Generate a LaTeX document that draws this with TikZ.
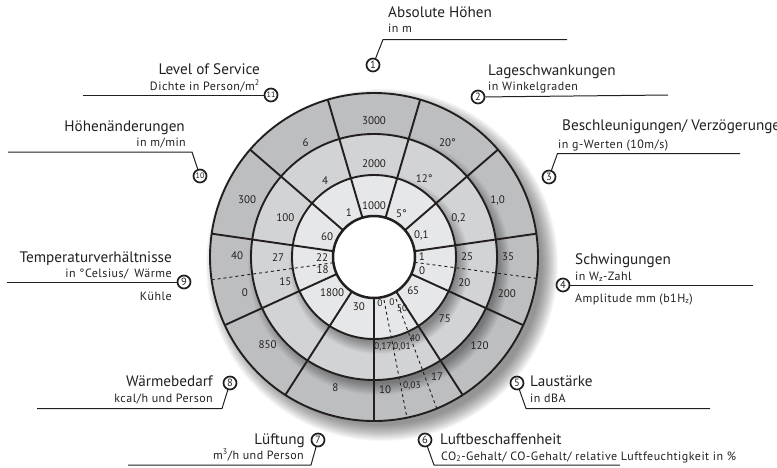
\documentclass[tikz,border=0pt]{standalone}
\usepackage{fontspec}
\setmainfont{PT Sans}
\newfontfamily\subfont[LetterSpace=4]{PT Sans}
\definecolor{ringA}{HTML}{E6E7E8}
\definecolor{ringB}{HTML}{D1D3D4}
\definecolor{ringC}{HTML}{BCBEC0}
\definecolor{ink}{HTML}{231F20}
\begin{document}
\begin{tikzpicture}[x=1pt,y=-1pt,line join=round,
  ringline/.style={line width=1.9pt, draw=ink},
  dashline/.style={line width=0.9pt, draw=ink, dash pattern=on 3pt off 3pt},
  lab/.style={font=\fontsize{11}{11}\selectfont, text=ink, inner sep=0},
  labs/.style={font=\fontsize{9.5}{9.5}\selectfont, text=ink, inner sep=0},
  ttl/.style={font=\fontsize{15.2}{15.2}\selectfont, text=ink, inner sep=0},
  subt/.style={font=\subfont\fontsize{12}{12}\selectfont, text=ink, inner sep=0},
  num/.style={circle, draw=ink, line width=1.7pt, inner sep=0, minimum size=13pt, font=\fontsize{10.5}{10.5}\selectfont, text=ink, fill=white},
  numb/.style={num, font=\fontsize{8}{8}\selectfont},
  lead/.style={line width=1pt, draw=ink}]
\useasboundingbox (0,0) rectangle (777,467);
\coordinate (O) at (374,257);
\begin{scope}[shift={(O)}, yscale=-1]
  % drop shadow of the whole disc
  \foreach \i in {0,...,16} \fill[black,opacity=0.03] (8,-8) circle ({176-\i});
  \fill[ringC] (0,0) circle (164);
  \begin{scope}
    \clip (0,0) circle (164);
    \foreach \i in {0,...,12} \fill[black,opacity=0.03] (5,-7) circle ({131-\i});
  \end{scope}
  \fill[ringB] (0,0) circle (123);
  \begin{scope}
    \clip (0,0) circle (123);
    \foreach \i in {0,...,12} \fill[black,opacity=0.03] (5,-7) circle ({90-\i});
  \end{scope}
  \fill[ringA] (0,0) circle (82);
  \fill[white] (0,0) circle (41);
  % radial separators
  \foreach \k in {0,...,10} \draw[ringline] (73.636+\k*32.727:41) -- (73.636+\k*32.727:164);
  % dashed sub-separators
  \draw[dashline] (188:41) -- (188:164);
  \draw[dashline] (-7.5:41) -- (-7.5:164);
  \draw[dashline] (10,-43) -- (33,-161);
  \draw[dashline] (22,-42) -- (63,-152);
  % ring circles
  \draw[ringline] (0,0) circle (82) (0,0) circle (123) (0,0) circle (164);
  \draw[ringline, line width=2.5pt] (0,0) circle (41);
  % sector 1
  \node[lab] (a1) at (90:51) {1000};
  \node[lab] (b1) at (90:93) {2000};
  \node[lab] (c1) at (90:136) {3000};
  % sector 2
  \node[lab] (a2) at (57.27:51) {5°};
  \node[lab] (b2) at (57.27:93) {12°};
  \node[lab] (c2) at (57.27:136) {20°};
  % sector 3
  \node[lab] (a3) at (24.55:52) {0,1};
  \node[lab] (b3) at (24.55:93) {0,2};
  \node[lab] (c3) at (24.55:136) {1,0};
  % sector 4
  \node[lab] (a4) at (1:48) {1};
  \node[lab] (b4) at (0:93) {25};
  \node[lab] (c4) at (0:134) {35};
  \node[lab] (d4) at (-16:50) {0};
  \node[lab] (e4) at (-16:94) {20};
  \node[lab] (f4) at (-15.5:138) {200};
  % sector 5
  \node[lab] (a5) at (-41:52) {65};
  \node[lab] (b5) at (-41:94) {75};
  \node[lab] (c5) at (-40:138) {120};
  % sector 6
  \node[labs] (a6) at (6,-46) {0};
  \node[labs] (b6) at (18,-45) {0};
  \node[labs] (c6) at (28,-51) {50};
  \node[labs] (d6) at (9,-90) {0,17};
  \node[labs] (e6) at (28,-90) {0,01};
  \node[labs] (f6) at (41,-81) {40};
  \node[lab] (g6) at (11,-133) {10};
  \node[labs] (h6) at (38,-129) {0,03};
  \node[lab] (i6) at (63,-120) {17};
  % sector 7
  \node[lab] (a7) at (-107:52) {30};
  \node[lab] (c7) at (-106.5:136) {8};
  % sector 8
  \node[lab] (a8) at (-139.5:55) {1800};
  \node[lab] (c8) at (-140.5:138) {850};
  % sector 9
  \node[lab] (a9) at (180.5:52) {22};
  \node[lab] (b9) at (180.5:96) {27};
  \node[lab] (c9) at (179.5:137) {40};
  \node[lab] (d9) at (194:53) {18};
  \node[lab] (e9) at (195.7:92) {15};
  \node[lab] (f9) at (195.6:134) {0};
  % sector 10
  \node[lab] (a10) at (157:51) {60};
  \node[lab] (b10) at (156:97) {100};
  \node[lab] (c10) at (155.8:139) {300};
  % sector 11
  \node[lab] (a11) at (119.6:51) {1};
  \node[lab] (b11) at (122.5:91) {4};
  \node[lab] (c11) at (121:133) {6};
\end{scope}
% numbered circles
\node[num] (n1) at (373,65) {1};
\node[num] (n2) at (478,97) {2};
\node[num] (n3) at (549,177) {3};
\node[num] (n4) at (563,285) {4};
\node[num] (n5) at (517,383) {5};
\node[num] (n6) at (425,440) {6};
\node[num] (n7) at (318,440) {7};
\node[num] (n8) at (230,383) {8};
\node[num] (n9) at (184,282) {9};
\node[numb] (n10) at (200,176) {10};
\node[numb] (n11) at (271,95) {11};
% leader coordinates
\coordinate (k1) at (383,39.5); \coordinate (e1) at (567,39.5);
\coordinate (e2) at (668,95);
\coordinate (k3) at (557.5,153.5); \coordinate (e3) at (740,153.5);
\coordinate (e4) at (753,285);
\coordinate (k5) at (526,408.5); \coordinate (e5) at (710,408.5);
\coordinate (k6) at (434,465); \coordinate (e6) at (620,465);
\coordinate (k7) at (311,465); \coordinate (e7) at (128,465);
\coordinate (k8) at (222,408.5); \coordinate (e8) at (37,408.5);
\coordinate (e9) at (7,282);
\coordinate (k10) at (192,152); \coordinate (e10) at (8,152);
\coordinate (e11) at (83,95);
\draw[lead] (n1) -- (k1) -- (e1);
\draw[lead] (n2) -- (e2);
\draw[lead] (n3) -- (k3) -- (e3);
\draw[lead] (n4) -- (e4);
\draw[lead] (n5) -- (k5) -- (e5);
\draw[lead] (n6) -- (k6) -- (e6);
\draw[lead] (n7) -- (k7) -- (e7);
\draw[lead] (n8) -- (k8) -- (e8);
\draw[lead] (n9) -- (e9);
\draw[lead] (n10) -- (k10) -- (e10);
\draw[lead] (n11) -- (e11);
% texts
\node[ttl, anchor=base west] (t1) at (388,17.5) {Absolute Höhen};
\node[subt, anchor=base west] (s1) at (388,32.5) {in m};
\node[ttl, anchor=base west] (t2) at (488,75) {Lageschwankungen};
\node[subt, anchor=base west] (s2) at (488,90) {in Winkelgraden};
\node[ttl, anchor=base west] (t3) at (562,130) {Beschleunigungen/ Verzögerungen};
\node[subt, anchor=base west] (s3) at (558,148.3) {in g-Werten (10m/s)};
\node[ttl, anchor=base west] (t4) at (575,264) {Schwingungen};
\node[subt, anchor=base west] (s4) at (575,280) {in W\textsubscript{z}-Zahl};
\node[subt, anchor=base west] (u4) at (575,302) {Amplitude mm (b1H\textsubscript{z})};
\node[ttl, anchor=base west] (t5) at (530,386.7) {Laustärke};
\node[subt, anchor=base west] (s5) at (530,402.7) {in dBA};
\node[ttl, anchor=base west] (t6) at (440,444) {Luftbeschaffenheit};
\node[subt, anchor=base west] (s6) at (441,460) {CO\textsubscript{2}-Gehalt/ CO-Gehalt/ relative Luftfeuchtigkeit in \%};
\node[ttl, anchor=base east] (t7) at (305,444) {Lüftung};
\node[subt, anchor=base east] (s7) at (304,459) {m\textsuperscript{3}/h und Person};
\node[ttl, anchor=base east] (t8) at (213,386.7) {Wärmebedarf};
\node[subt, anchor=base east] (s8) at (213,402.7) {kcal/h und Person};
\node[ttl, anchor=base east] (t9) at (172,262) {Temperaturverhältnisse};
\node[subt, anchor=base east] (s9) at (172,277) {in °Celsius/\enspace Wärme};
\node[subt, anchor=base east] (u9) at (172,300.5) {Kühle};
\node[ttl, anchor=base east] (t10) at (185,131.7) {Höhenänderungen};
\node[subt, anchor=base east] (s10) at (186,146.7) {in m/min};
\node[ttl, anchor=base east] (t11) at (260,74) {Level of Service};
\node[subt, anchor=base east] (s11) at (260,90) {Dichte in Person/m\textsuperscript{2}};
\end{tikzpicture}
\end{document}
